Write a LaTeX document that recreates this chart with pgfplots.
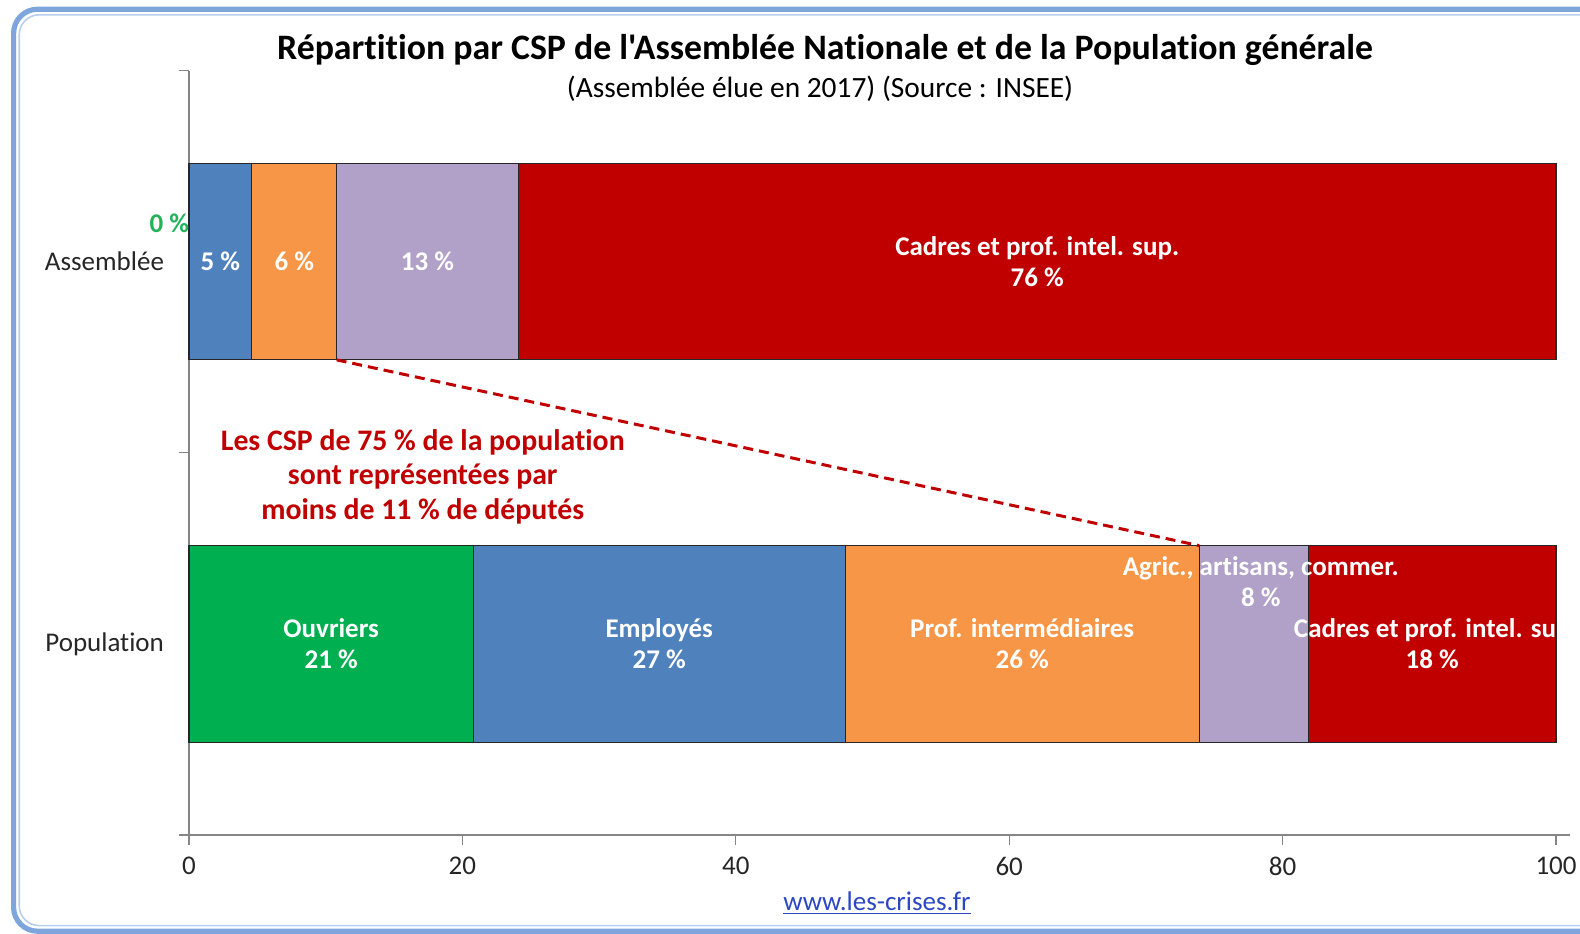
\documentclass[border=0pt]{standalone}
\usepackage{fontspec}
\setmainfont{Carlito}[Ligatures=NoCommon]
\newfontfamily\plainfont{Carlito}[Ligatures=NoCommon]
\usepackage{pgfplots}
\pgfplotsset{compat=1.18}
\definecolor{cgreen}{HTML}{00B050}
\definecolor{cblue}{HTML}{4F81BD}
\definecolor{corange}{HTML}{F79646}
\definecolor{cpurple}{HTML}{B1A0C7}
\definecolor{cred}{HTML}{C00000}
\definecolor{frameblue}{HTML}{7EA6DC}
\definecolor{axgray}{HTML}{868686}
\definecolor{linkblue}{HTML}{2B47C4}
\definecolor{lblgreen}{HTML}{22B35A}
\begin{document}
\begin{tikzpicture}
\path[use as bounding box] (0pt,0pt) rectangle (790pt,-466.5pt);
\draw[frameblue, line width=2.6pt, rounded corners=12pt] (6.8pt,-4.6pt) rectangle (812pt,-465.6pt);
\draw[frameblue!55, line width=0.8pt, rounded corners=10pt] (9.6pt,-7.4pt) rectangle (809pt,-462.8pt);
\begin{axis}[
  at={(94.5pt,-417.5pt)}, anchor=south west,
  scale only axis, width=690.35pt, height=382.25pt,
  xmin=0, xmax=101, ymin=-0.5, ymax=1.5,
  xbar stacked, bar width=0.514,
  axis x line*=bottom, axis y line*=left,
  axis line style={axgray, line width=0.7pt},
  xtick={0,20,40,60,80,100},
  ytick={-0.5,0.5,1.5}, yticklabels={},
  extra y ticks={0,1}, extra y tick labels={Population,Assemblée},
  extra y tick style={major tick length=0pt, tick label style={xshift=-9pt}},
  tick align=outside, major tick length=5pt,
  tick style={axgray, line width=0.6pt},
  tick label style={font=\fontsize{13.5}{16}\selectfont, text=black!85},
  xticklabel style={yshift=-2.5pt},
  /pgf/number format/assume math mode=true,
  clip=false,
]
\addplot[fill=cgreen, draw=black!85, line width=0.6pt] coordinates {(0,1) (20.8,0)};
\addplot[fill=cblue, draw=black!85, line width=0.6pt] coordinates {(4.6,1) (27.2,0)};
\addplot[fill=corange, draw=black!85, line width=0.6pt] coordinates {(6.2,1) (25.9,0)};
\addplot[fill=cpurple, draw=black!85, line width=0.6pt] coordinates {(13.3,1) (8.0,0)};
\addplot[fill=cred, draw=black!85, line width=0.6pt] coordinates {(75.9,1) (18.1,0)};

\coordinate (a1) at (axis cs:2.3,1);
\coordinate (a2) at (axis cs:7.7,1);
\coordinate (a3) at (axis cs:17.45,1);
\coordinate (a4) at (axis cs:62.05,1);
\coordinate (a0) at (axis cs:-1.44,1.10);
\coordinate (p0) at (axis cs:10.4,0);
\coordinate (p1) at (axis cs:34.4,0);
\coordinate (p2) at (axis cs:60.95,0);
\coordinate (p3) at (axis cs:78.4,0.162);
\coordinate (p4) at (axis cs:90.95,0);
\coordinate (d1) at (axis cs:10.8,0.743);
\coordinate (d2) at (axis cs:73.9,0.257);
\coordinate (ann) at (axis cs:17.1,0.437);
\end{axis}
\tikzset{lbl/.style={text=white, font=\bfseries\fontsize{13.5}{15.6}\selectfont, align=center, inner sep=0pt}}
\node[lbl] at (a1) {5 \%};
\node[lbl] at (a2) {6 \%};
\node[lbl] at (a3) {13 \%};
\node[lbl] at (a4) {Cadres et prof. intel. sup.\\76 \%};
\node[lbl, text=lblgreen] at (a0) {0 \%};
\node[lbl] at (p0) {Ouvriers\\21 \%};
\node[lbl] at (p1) {Employés\\27 \%};
\node[lbl] at (p2) {Prof. intermédiaires\\26 \%};
\node[lbl] at (p3) {Agric., artisans, commer.\\8 \%};
\node[lbl] at (p4) {Cadres et prof. intel. sup\\18 \%};
\draw[cred, line width=1.5pt, dash pattern=on 5pt off 3pt] (d1) -- (d2);
\node[text=cred, font=\bfseries\fontsize{14.9}{17.25}\selectfont, align=center] at (ann)
  {Les CSP de 75 \% de la population\\sont représentées par\\moins de 11 \% de députés};
\node[font=\plainfont\bfseries\fontsize{17.9}{21}\selectfont] at (412.5pt,-25.2pt)
  {Répartition par CSP de l'Assemblée Nationale et de la Population générale};
\node[font=\fontsize{14.7}{17}\selectfont] at (410pt,-44.3pt)
  {(Assemblée élue en 2017) (Source : INSEE)};
\node[font=\fontsize{13.5}{16}\selectfont, text=linkblue] at (438.5pt,-451.5pt)
  {\underline{www.les-crises.fr}};
\end{tikzpicture}
\end{document}
